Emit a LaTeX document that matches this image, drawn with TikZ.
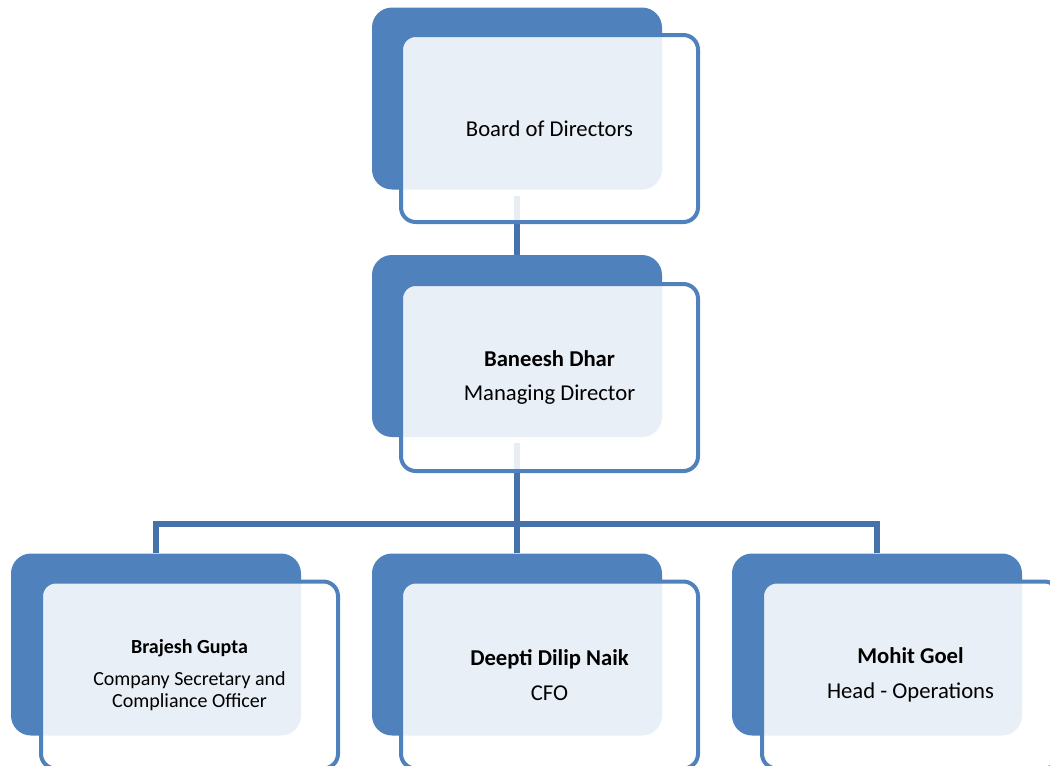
\documentclass[tikz,border=0pt]{standalone}
\usepackage{fontspec}
\setmainfont{Carlito}
\usetikzlibrary{positioning}
\definecolor{accent}{RGB}{79,129,189}
\definecolor{linkblue}{RGB}{70,114,172}

\begin{document}
\begin{tikzpicture}[x=0.75pt,y=-0.75pt,
        backbox/.style={rectangle,rounded corners=15pt,fill=accent,minimum width=217.5pt,minimum height=136.5pt},
        frontbox/.style={rectangle,rounded corners=11pt,draw=accent,line width=3pt,fill=white,fill opacity=0.88,text opacity=1,
            minimum width=222.75pt,minimum height=140.25pt,align=center,font=\fontsize{17}{20}\selectfont},
        smallbox/.style={frontbox,font=\fontsize{15}{16.5}\selectfont},
        conn/.style={draw=linkblue,line width=4.5pt}
        ]
        \useasboundingbox (0,0) rectangle (1050,765);
        \clip (0,0) rectangle (1050,765);
        \node (bdback)  [backbox] at (517,98.5)  {};
        \node (mdback)  [backbox] at (517,346)   {};
        \node (csback)  [backbox] at (156,644.5) {};
        \node (cfoback) [backbox] at (517,644.5) {};
        \node (opsback) [backbox] at (877,644.5) {};
        \coordinate (bar) at (517,524);
        \draw[conn,shorten <=4.5pt] (bdback.south) -- (mdback.north);
        \draw[conn,shorten <=4.5pt] (mdback.south) -- (cfoback.north);
        \draw[conn] (csback.north) -- (csback.north |- bar) -- (opsback.north |- bar) -- (opsback.north);
        \node (bd)  [frontbox] at (549.5,128.5) {Board of Directors};
        \node (md)  [frontbox] at (549.5,377.5) {\textbf{Baneesh Dhar}\\[6pt]Managing Director};
        \node (cs)  [smallbox] at (189.5,675)   {\textbf{Brajesh Gupta}\\[7pt]Company Secretary and\\Compliance Officer};
        \node (cfo) [frontbox] at (549.5,675)   {\textbf{Deepti Dilip Naik}\\[6pt]CFO};
        \node (ops) [frontbox] at (910.5,675)   {\textbf{Mohit Goel}\\[6pt]Head - Operations};
\end{tikzpicture}
\end{document}
